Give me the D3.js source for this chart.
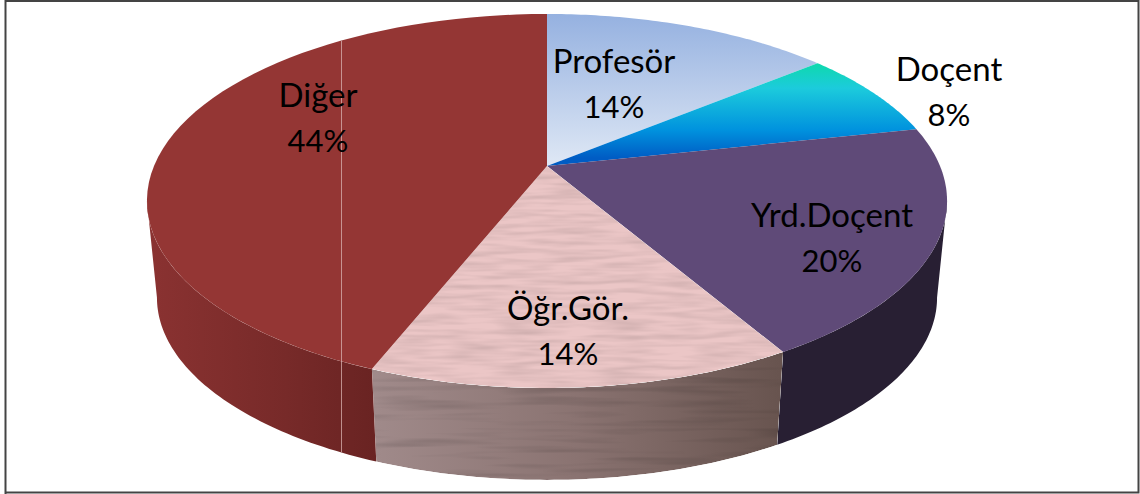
<!DOCTYPE html>
<meta charset="utf-8">
<script src="https://d3js.org/d3.v7.min.js"></script>
<style>
  html, body { margin: 0; background: #fff; }
  svg { display: block; }
  .chartLabel { font-family: Lato, sans-serif; font-size: 31px; fill: #000; text-anchor: middle; }
  .chartLabel .name { font-size: 33px; }
</style>
<body></body>
<script>

// slice values (labels show them rounded)
var categories = ["Profesör", "Doçent", "Yrd.Doçent", "Öğr.Gör.", "Diğer"];
var values = [14, 7.6, 20, 14.4, 44];

var width = 1140, height = 494;
var svg = d3.select("body").append("svg")
    .attr("width", width)
    .attr("height", height);

// perspective of the tilted disc: unit circle (u, v) to screen
var apex = {x: 547, y: 166},
    spread = 393,
    tilt = -0.187,
    drop = 149.4;
// bottom face is the top face pulled in a little and moved down
var shrink = 0.975, depth = 97.5;
// angle where the rim turns away from the viewer
var edgeAngle = Math.acos(tilt);

function top_point(a, r) {
  var u = r * Math.sin(a), v = -r * Math.cos(a), w = tilt * v + 1;
  return [apex.x + spread * u / w, (apex.y + drop * v) / w];
}
function bottom_point(a) {
  var p = top_point(a, 1);
  return [apex.x + (p[0] - apex.x) * shrink, apex.y + (p[1] - apex.y) * shrink + depth];
}
function arc_angles(start, end) {
  return d3.range(0, 61).map(function(i) { return start + (end - start) * i / 60; });
}
var line = d3.line();

function top_path(d) {
  return line([[apex.x, apex.y]].concat(arc_angles(d.startAngle, d.endAngle).map(function(a) { return top_point(a, 1); }))) + "Z";
}
// rim only for the part of the slice that faces the viewer
function side_path(d) {
  var angles = arc_angles(Math.max(d.startAngle, edgeAngle), Math.min(d.endAngle, 2 * Math.PI - edgeAngle));
  return line(angles.map(function(a) { return top_point(a, 1); })
    .concat(angles.slice().reverse().map(bottom_point))) + "Z";
}

var pie = d3.pie().sort(null).value(function(d) { return d; });
var slices = pie(values);

var defs = svg.append("defs");
function gradient(id, x1, y1, x2, y2, stops) {
  var g = defs.append("linearGradient").attr("id", id)
      .attr("gradientUnits", "userSpaceOnUse")
      .attr("x1", x1).attr("y1", y1).attr("x2", x2).attr("y2", y2);
  stops.forEach(function(s) {
    g.append("stop").attr("offset", s[0]).attr("stop-color", s[1]);
  });
}
gradient("profTop", 0, 14, 0, 166, [[0, "#95b1e0"], [1, "#dfe8f5"]]);
gradient("docTop", 0, 65, 0, 158, [[0, "#0fd8b0"], [0.25, "#1ccbdc"], [0.7, "#0092de"], [1, "#005cc4"]]);
gradient("digerSide", 150, 0, 378, 0, [[0, "#8a3231"], [0.6, "#772a29"], [1, "#692322"]]);
gradient("ogrSide", 375, 0, 780, 0, [[0, "#a08a8a"], [0.5, "#8a7371"], [1, "#68544f"]]);

// brushed look of the Öğr.Gör. slice
function grain(id, freq, seed, slope, base) {
  var f = defs.append("filter").attr("id", id)
      .attr("color-interpolation-filters", "sRGB");
  f.append("feTurbulence").attr("type", "fractalNoise")
      .attr("baseFrequency", freq).attr("numOctaves", 2).attr("seed", seed).attr("result", "n");
  f.append("feColorMatrix").attr("in", "n").attr("type", "matrix")
      .attr("values", [slope, 0, 0, 0, base, slope, 0, 0, 0, base, slope, 0, 0, 0, base, 0, 0, 0, 0, 1].join(" "))
      .attr("result", "g");
  f.append("feBlend").attr("in", "SourceGraphic").attr("in2", "g").attr("mode", "multiply").attr("result", "b");
  f.append("feComposite").attr("in", "b").attr("in2", "SourceAlpha").attr("operator", "in");
}
grain("grainTop", "0.02 0.2", 4, 0.2, 0.87);
grain("grainSide", "0.008 0.14", 9, 0.35, 0.82);

var topFill = ["url(#profTop)", "url(#docTop)", "#5f4a78", "#ebc6c6", "#943634"];
var sideFill = [null, null, "#281f33", "url(#ogrSide)", "url(#digerSide)"];
var sideFilter = [null, null, null, "url(#grainSide)", null];
var topFilter = [null, null, null, "url(#grainTop)", null];

// rims first, the top faces cover whatever sits behind them
svg.append("g").attr("class", "sides")
  .selectAll("path")
  .data(slices.filter(function(d) { return sideFill[d.index]; }))
  .enter().append("path")
    .attr("d", side_path)
    .attr("fill", function(d) { return sideFill[d.index]; })
    .attr("filter", function(d) { return sideFilter[d.index]; });

svg.append("g").attr("class", "tops")
  .selectAll("path")
  .data(slices)
  .enter().append("path")
    .attr("d", top_path)
    .attr("fill", function(d) { return topFill[d.index]; })
    .attr("filter", function(d) { return topFilter[d.index]; });

// pale hairline that runs down the Diğer slice in the original
svg.append("line")
    .attr("x1", 341.5).attr("x2", 341.5)
    .attr("y1", 41).attr("y2", 452)
    .attr("stroke", "#d9b3b0")
    .attr("stroke-opacity", 0.75)
    .attr("stroke-width", 1);

// label centres, first line baseline
var labelPos = [[614, 73], [949, 81], [832, 227], [568, 320], [318, 107]];
var lineGap = 45;
var pct = d3.format(".0f");
var total = d3.sum(values);

var labels = svg.append("g").selectAll("text")
  .data(slices)
  .enter().append("text")
    .attr("class", "chartLabel")
    .attr("transform", function(d) { return "translate(" + labelPos[d.index] + ")"; });
labels.append("tspan")
    .attr("class", "name")
    .attr("x", 0).attr("y", 0)
    .text(function(d) { return categories[d.index]; });
labels.append("tspan")
    .attr("x", 0).attr("y", lineGap)
    .text(function(d) { return pct(d.value / total * 100) + "%"; });

// frame
svg.append("path")
    .attr("d", "M5.5,494V1H1138.5V492.5H5.5")
    .attr("fill", "none")
    .attr("stroke", "#444")
    .attr("stroke-width", 2);

</script>
